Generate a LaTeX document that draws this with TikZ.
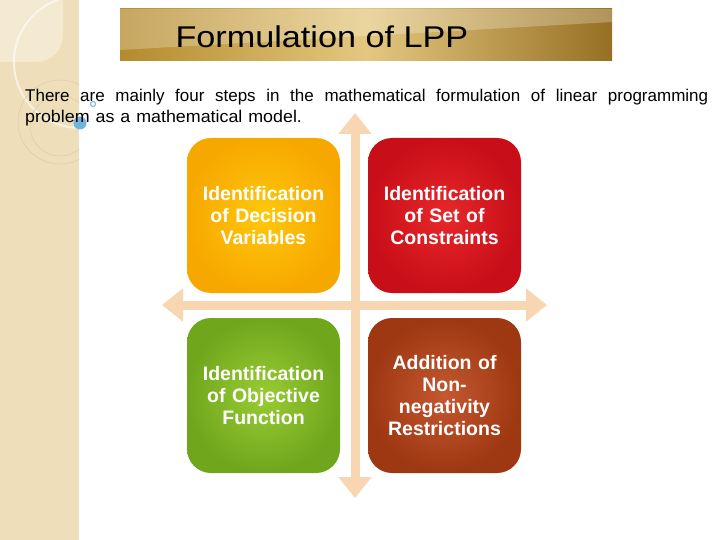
\documentclass[tikz,border=0pt]{standalone}
\usepackage{fontspec}
\setmainfont{Liberation Sans}
\usepackage{xcolor}
\usepackage{tikz}
\usetikzlibrary{arrows.meta,positioning,shapes}

\definecolor{sidebar}{RGB}{238,223,186}
\definecolor{sidelight}{RGB}{244,234,210}
\definecolor{goldA}{RGB}{180,138,44}
\definecolor{goldB}{RGB}{228,200,128}
\definecolor{goldC}{RGB}{150,112,36}
\definecolor{crossarrow}{RGB}{249,214,178}
\definecolor{bubble}{RGB}{110,180,220}

\tikzset{
  stepcard/.style={rounded corners=24pt, minimum width=153pt, minimum height=155pt,
    text width=145pt, align=center, text=white, inner sep=0pt,
    font=\fontsize{19.5}{22}\selectfont\bfseries},
  crossline/.style={line width=9pt, draw=crossarrow,
    {Triangle[width=32pt,length=21pt]}-{Triangle[width=32pt,length=21pt]}}
}

\begin{document}
\begin{tikzpicture}[x=1pt,y=-1pt]
			\useasboundingbox (0,0) rectangle (720,540);
			\fill[white] (0,0) rectangle (720,540);

			% ---------------- Sidebar (Left) ----------------
			\fill[sidebar] (0,0) rectangle (79,540);
			\begin{scope}
				\clip (0,0) rectangle (79,540);
				\fill[sidelight] (0,0) -- (63,0) -- (63,35) arc[start angle=0,end angle=90,radius=27] -- (0,62) -- cycle;
				\draw[white,line width=2pt,opacity=0.6] (80,62) circle[radius=66];
				\draw[brown!45,line width=0.5pt] (60,122) circle[radius=42];
				\draw[brown!45,line width=0.5pt] (60,126) circle[radius=30];
			\end{scope}

			% ---------------- Title ----------------
			\shade[left color=goldA, right color=goldC, middle color=goldB] (120,9) rectangle (612,61);
			\fill[white,opacity=0.25] (120,9) -- (612,9) -- (612,22) -- (120,50) -- cycle;
			\node[anchor=west] (title) at (172,37) {\fontsize{30}{34}\selectfont\scalebox{1.14}[1]{Formulation of LPP}};

			% ---------------- Intro text ----------------
			\fill[bubble] (80,123) circle[radius=6.5];
			\draw[bubble,line width=1pt] (93,104) circle[radius=2.5];
			\node[anchor=north west,inner sep=0pt,text width=683pt,align=left,
				font=\fontsize{17}{21}\selectfont] (intro) at (25,89)
				{\hbox to 683pt{There\hfill are\hfill mainly\hfill four\hfill steps\hfill in\hfill the\hfill mathematical\hfill formulation\hfill of\hfill linear\hfill programming}\\
				\scalebox{1.05}[1]{problem as a mathematical model.}};

			% ---------------- Cross arrows ----------------
			\coordinate (vtop) at (355,113);
			\coordinate (vbot) at (355,498);
			\coordinate (hleft) at (162,305);
			\coordinate (hright) at (547,305);
			\draw[crossline] (vtop) -- (vbot);
			\draw[crossline] (hleft) -- (hright);

			% ---------------- Steps ----------------
			\node[stepcard,inner color={rgb,255:red,255;green,200;blue,10},outer color={rgb,255:red,247;green,168;blue,0}] (decision) at (263.5,215.5)
				{Identification\\of Decision\\Variables};
			\node[stepcard,inner color={rgb,255:red,232;green,40;blue,42},outer color={rgb,255:red,200;green,14;blue,24}] (constraints) at (444.5,215.5)
				{Identification\\of Set of\\Constraints};
			\node[stepcard,inner color={rgb,255:red,152;green,204;blue,52},outer color={rgb,255:red,112;green,166;blue,28}] (objective) at (263.5,395.5)
				{Identification\\of Objective\\Function};
			\node[stepcard,inner color={rgb,255:red,196;green,88;blue,48},outer color={rgb,255:red,158;green,56;blue,18}] (nonneg) at (444.5,395.5)
				{Addition of\\Non-\\negativity\\Restrictions};
		\end{tikzpicture}
\end{document}
